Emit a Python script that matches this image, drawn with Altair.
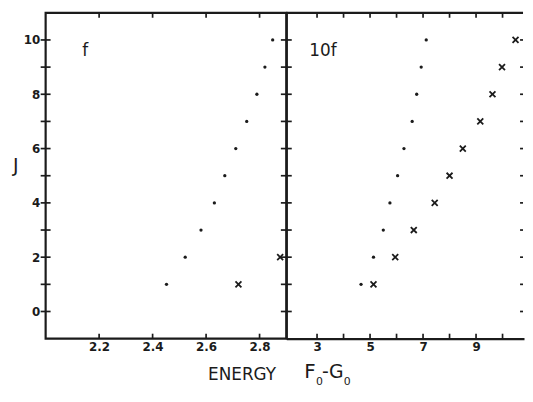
import altair as alt
import pandas as pd

# ---- data ----
J_levels = list(range(1, 11))
f_dot_energy = [2.452, 2.522, 2.581, 2.631, 2.670, 2.711, 2.752, 2.790, 2.820, 2.849]
f_cross_J = [1, 2]
f_cross_energy = [2.721, 2.877]
tenf_dot_energy = [4.66, 5.13, 5.50, 5.75, 6.04, 6.28, 6.59, 6.76, 6.93, 7.12]
tenf_cross_energy = [5.13, 5.95, 6.65, 7.44, 8.00, 8.50, 9.16, 9.62, 9.98, 10.49]

y_tick_values = list(range(0, 11))
y_label_values = [0, 2, 4, 6, 8, 10]
f_x_ticks = [2.2, 2.4, 2.6, 2.8]
tenf_x_ticks = [3, 4, 5, 6, 7, 8, 9, 10]
tenf_x_labels = [3, 5, 7, 9]

W1, W2, H = 243, 240, 329
INK = "#1b1b1b"
FONT = "DejaVu Sans"
XSHAPE = "M-1,-1L1,1M-1,1L1,-1"

yscale = alt.Scale(domain=[-1, 11], nice=False, zero=False)
x1scale = alt.Scale(domain=[2.0, 2.9], nice=False, zero=False)
x2scale = alt.Scale(domain=[1.84, 10.81], nice=False, zero=False)

df_fdots = pd.DataFrame({"E": f_dot_energy, "J": J_levels})
df_fcross = pd.DataFrame({"E": f_cross_energy, "J": f_cross_J})
df_tdots = pd.DataFrame({"E": tenf_dot_energy, "J": J_levels})
df_tcross = pd.DataFrame({"E": tenf_cross_energy, "J": J_levels})
df_yt = pd.DataFrame({"J": y_tick_values})
df_xt1 = pd.DataFrame({"E": f_x_ticks})
df_xt2 = pd.DataFrame({"E": tenf_x_ticks})
df_one = pd.DataFrame({"t": ["x"]})


def label(text, x, y, size, align="left"):
    return alt.Chart(df_one).mark_text(
        text=text, font=FONT, fontSize=size, color=INK, align=align,
        baseline="alphabetic").encode(x=alt.value(x), y=alt.value(y))


# ---------------- left panel (f) ----------------
l_dots = alt.Chart(df_fdots).mark_circle(size=11, color=INK, opacity=1).encode(
    x=alt.X("E:Q", scale=x1scale,
            axis=alt.Axis(values=f_x_ticks, format=".1f", ticks=False, domain=False,
                          grid=False, labelFontSize=12, labelFontWeight="bold",
                          labelPadding=3, title=None)),
    y=alt.Y("J:Q", scale=yscale,
            axis=alt.Axis(values=y_label_values, ticks=False, domain=False, grid=False,
                          labelFontSize=12, labelFontWeight="bold", labelPadding=6,
                          title="J", titleAngle=0, titleFontSize=19,
                          titleFontWeight="normal", titlePadding=8)),
)
l_cross = alt.Chart(df_fcross).mark_point(shape=XSHAPE, filled=False, strokeWidth=1.8,
                                          size=36, color=INK, opacity=1).encode(
    x=alt.X("E:Q", scale=x1scale), y=alt.Y("J:Q", scale=yscale))
l_yt = alt.Chart(df_yt).mark_rule(color=INK, strokeWidth=1.7).encode(
    y=alt.Y("J:Q", scale=yscale), x=alt.value(-5), x2=alt.value(5))
l_bt = alt.Chart(df_xt1).mark_rule(color=INK, strokeWidth=1.7).encode(
    x=alt.X("E:Q", scale=x1scale), y=alt.value(H - 5), y2=alt.value(H))
l_tt = alt.Chart(df_xt1).mark_rule(color=INK, strokeWidth=1.7).encode(
    x=alt.X("E:Q", scale=x1scale), y=alt.value(0), y2=alt.value(5))
l_lab = label("f", 40, 44, 17, align="center")
l_energy = label("ENERGY", 164, H + 42, 17)

left = alt.layer(l_dots, l_cross, l_yt, l_bt, l_tt, l_lab, l_energy).properties(
    width=W1, height=H,
    view=alt.ViewBackground(stroke=INK, strokeWidth=2.2))

# ---------------- right panel (10f) ----------------
r_dots = alt.Chart(df_tdots).mark_circle(size=11, color=INK, opacity=1).encode(
    x=alt.X("E:Q", scale=x2scale,
            axis=alt.Axis(values=tenf_x_labels, format="d", ticks=False, domain=True,
                          domainColor=INK, domainWidth=2.2, grid=False,
                          labelFontSize=12, labelFontWeight="bold", labelPadding=3,
                          title=None)),
    y=alt.Y("J:Q", scale=yscale,
            axis=alt.Axis(labels=False, ticks=False, domain=True, domainColor=INK,
                          domainWidth=2.2, grid=False, title=None)),
)
r_cross = alt.Chart(df_tcross).mark_point(shape=XSHAPE, filled=False, strokeWidth=1.8,
                                          size=36, color=INK, opacity=1).encode(
    x=alt.X("E:Q", scale=x2scale), y=alt.Y("J:Q", scale=yscale))
r_mid = alt.Chart(df_yt).mark_rule(color=INK, strokeWidth=1.7).encode(
    y=alt.Y("J:Q", scale=yscale), x=alt.value(-5.5), x2=alt.value(5.5))
r_edge = alt.Chart(df_yt).mark_rule(color=INK, strokeWidth=1.7).encode(
    y=alt.Y("J:Q", scale=yscale), x=alt.value(W2 - 4), x2=alt.value(W2 - 1))
r_bt = alt.Chart(df_xt2).mark_rule(color=INK, strokeWidth=1.7).encode(
    x=alt.X("E:Q", scale=x2scale), y=alt.value(H - 5), y2=alt.value(H))
r_tt = alt.Chart(df_xt2).mark_rule(color=INK, strokeWidth=1.7).encode(
    x=alt.X("E:Q", scale=x2scale), y=alt.value(0), y2=alt.value(5))
r_top = alt.Chart(df_one).mark_rule(color=INK, strokeWidth=2.2).encode(
    y=alt.value(0), x=alt.value(0), x2=alt.value(W2 - 1))
r_lab = label("10f", 37, 44, 17, align="center")
r_F = label("F", 18, H + 40, 20)
r_F0 = label("0", 30, H + 47, 11)
r_dash = label("-", 36, H + 40, 19)
r_G = label("G", 43, H + 40, 19)
r_G0 = label("0", 58, H + 47, 11)

right = alt.layer(r_dots, r_cross, r_mid, r_edge, r_bt, r_tt, r_top, r_lab,
                  r_F, r_F0, r_dash, r_G, r_G0).properties(
    width=W2, height=H,
    view=alt.ViewBackground(stroke="transparent"))

chart = alt.hconcat(left, right, spacing=0, bounds="flush").properties(
    padding={"left": 3, "top": 1, "right": 0, "bottom": 0}
).configure_axis(
    labelFont=FONT, titleFont=FONT, labelColor=INK, titleColor=INK
).configure_view(stroke="transparent")

chart.save("out.html", embed_options={"renderer": "svg", "actions": False})
